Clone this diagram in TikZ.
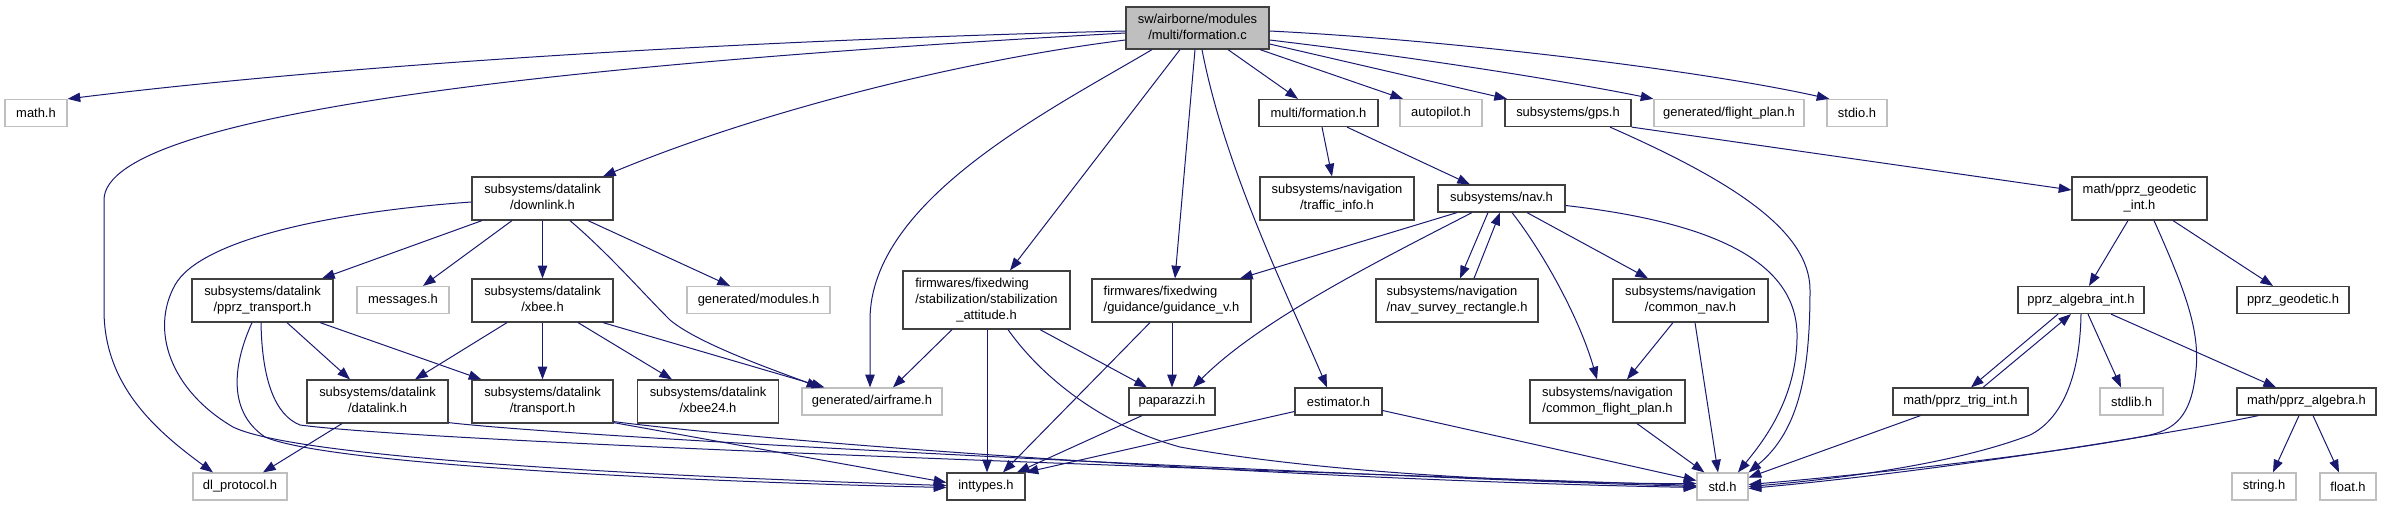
\documentclass[tikz,border=0pt]{standalone}
\usepackage{fontspec}
\setmainfont{Liberation Sans}
\usetikzlibrary{calc,arrows.meta}
\definecolor{edgec}{HTML}{191970}
\definecolor{dkb}{HTML}{404040}
\definecolor{ltb}{HTML}{BFBFBF}
\definecolor{topf}{HTML}{BFBFBF}
\newcommand{\twol}[2]{\begin{tabular}{@{}l@{}}#1\\\multicolumn{1}{@{}c@{}}{#2}\end{tabular}}
\newcommand{\threel}[3]{\begin{tabular}{@{}l@{}}#1\\#2\\\multicolumn{1}{@{}c@{}}{#3}\end{tabular}}
\begin{document}
\begin{tikzpicture}[x=0.75pt,y=-0.75pt,
  base/.style={inner sep=0pt, line width=0.9pt, fill=white, font=\fontsize{9.7}{12}\selectfont, align=center},
  dk/.style={base, draw=dkb},
  lt/.style={base, draw=ltb},
  sz/.style 2 args={minimum width=#1*0.75pt, minimum height=#2*0.75pt},
  inc/.style={draw=edgec, line width=0.75pt, -{Triangle[length=9.5pt,width=7pt]}, fill=none}]
\useasboundingbox (0,0) rectangle (2381,507);
% nodes
\node[dk, sz={143}{42}, fill=topf] (T) at (1197.5,28) {\twol{sw/airborne/modules}{/multi/formation.c}};
\node[lt, sz={62}{27}] (math) at (36,113) {math.h};
\node[dk, sz={119}{27}] (mform) at (1318.5,113) {multi/formation.h};
\node[lt, sz={82}{27}] (autopilot) at (1441,113) {autopilot.h};
\node[dk, sz={126}{27}] (gps) at (1568,113) {subsystems/gps.h};
\node[lt, sz={150}{27}] (flightplan) at (1729,113) {generated/flight\_plan.h};
\node[lt, sz={60}{27}] (stdio) at (1857,113) {stdio.h};
\node[dk, sz={141}{43}] (downlink) at (542.5,198.5) {\twol{subsystems/datalink}{/downlink.h}};
\node[dk, sz={154}{43}] (traffic) at (1337,198.5) {\twol{subsystems/navigation}{/traffic\_info.h}};
\node[dk, sz={127}{27}] (nav) at (1501.5,198.5) {subsystems/nav.h};
\node[dk, sz={135}{43}] (geoint) at (2139.5,198.5) {\twol{math/pprz\_geodetic}{\_int.h}};
\node[dk, sz={141}{43}] (ptrans) at (262.5,300.5) {\twol{subsystems/datalink}{/pprz\_transport.h}};
\node[lt, sz={92}{27}] (messages) at (403,300) {messages.h};
\node[dk, sz={141}{43}] (xbee) at (542.5,300.5) {\twol{subsystems/datalink}{/xbee.h}};
\node[lt, sz={143}{27}] (modules) at (758.5,300) {generated/modules.h};
\node[dk, sz={167}{58}] (stab) at (986.5,300) {\threel{firmwares/fixedwing}{/stabilization/stabilization}{\_attitude.h}};
\node[dk, sz={159}{43}] (guid) at (1171.5,300.5) {\twol{firmwares/fixedwing}{/guidance/guidance\_v.h}};
\node[dk, sz={162}{43}] (survey) at (1457,300.5) {\twol{subsystems/navigation}{/nav\_survey\_rectangle.h}};
\node[dk, sz={155}{43}] (cnav) at (1690.5,300.5) {\twol{subsystems/navigation}{/common\_nav.h}};
\node[dk, sz={126}{27}] (algint) at (2081,300) {pprz\_algebra\_int.h};
\node[dk, sz={112}{27}] (geodetic) at (2293,300) {pprz\_geodetic.h};
\node[dk, sz={141}{43}] (datalink) at (377.5,401.5) {\twol{subsystems/datalink}{/datalink.h}};
\node[dk, sz={141}{43}] (transport) at (542.5,401.5) {\twol{subsystems/datalink}{/transport.h}};
\node[dk, sz={141}{43}] (xbee24) at (708,401.5) {\twol{subsystems/datalink}{/xbee24.h}};
\node[lt, sz={140}{27}] (airframe) at (872,401.5) {generated/airframe.h};
\node[dk, sz={86}{27}] (paparazzi) at (1172,401.5) {paparazzi.h};
\node[dk, sz={87}{27}] (estimator) at (1338.5,401.5) {estimator.h};
\node[dk, sz={155}{43}] (cfp) at (1607.5,401.5) {\twol{subsystems/navigation}{/common\_flight\_plan.h}};
\node[dk, sz={135}{27}] (trig) at (1960.5,401.5) {math/pprz\_trig\_int.h};
\node[lt, sz={63}{27}] (stdlib) at (2131.5,401.5) {stdlib.h};
\node[dk, sz={139}{27}] (palg) at (2306.5,401.5) {math/pprz\_algebra.h};
\node[lt, sz={94}{27}] (dl) at (240,486.5) {dl\_protocol.h};
\node[dk, sz={78}{27}] (inttypes) at (986,486.5) {inttypes.h};
\node[lt, sz={51}{27}] (std) at (1722.5,486.5) {std.h};
\node[lt, sz={64}{27}] (string) at (2264,486.5) {string.h};
\node[lt, sz={56}{27}] (float) at (2348,486.5) {float.h};
% edges from formation.c
\draw[inc] ($(T.west)+(0,3)$) .. controls (750,40) and (350,64) .. (math.north east);
\draw[inc] ($(T.west)+(0,5)$) .. controls (600,62) and (104,110) .. (104,200) -- (104,310) .. controls (104,385) and (155,430) .. ($(dl.north)+(-27,0)$);
\draw[inc] ($(T.west)+(0,12)$) .. controls (950,62) and (750,115) .. ($(downlink.north)+(60.5,0)$);
\draw[inc] ($(T.south)+(-45.5,0)$) .. controls (1050,110) and (870,200) .. (870,320) -- ($(airframe.north)+(-2,0)$);
\draw[inc] ($(T.south)+(-17.5,0)$) -- ($(stab.north)+(23.5,0)$);
\draw[inc] ($(T.south)+(-2.5,0)$) -- ($(guid.north)+(3.5,0)$);
\draw[inc] ($(T.south)+(4.5,0)$) .. controls (1225,170) and (1290,300) .. ($(estimator.north)+(-11.5,0)$);
\draw[inc] ($(T.south)+(30.5,0)$) -- ($(mform.north)+(-20.5,0)$);
\draw[inc] ($(T.south)+(62.5,0)$) -- ($(autopilot.north)+(-38,0)$);
\draw[inc] ($(T.east)+(0,16)$) -- ($(gps.north)+(-61,0)$);
\draw[inc] ($(T.east)+(0,12)$) .. controls (1420,58) and (1560,80) .. (flightplan.north west);
\draw[inc] ($(T.east)+(0,3)$) .. controls (1450,40) and (1700,70) .. ($(stdio.north west)+(3,0)$);
% multi/formation.h
\draw[inc] ($(mform.south)+(3.5,0)$) -- ($(traffic.north)+(-5,0)$);
\draw[inc] ($(mform.south)+(28.5,0)$) -- ($(nav.north)+(-31.5,0)$);
% nav.h
\draw[inc] ($(nav.south)+(-44.5,0)$) -- ($(guid.north)+(68.5,0)$);
\draw[inc] ($(nav.south)+(-29.5,0)$) .. controls (1380,260) and (1260,320) .. ($(paparazzi.north)+(21,0)$);
\draw[inc] ($(nav.south)+(-13.5,0)$) -- ($(survey.north)+(3,0)$);
\draw[inc] ($(survey.north)+(17,0)$) -- ($(nav.south)+(-1.5,0)$);
\draw[inc] ($(nav.south)+(10.5,0)$) .. controls (1545,255) and (1580,320) .. ($(cfp.north)+(-10.5,0)$);
\draw[inc] ($(nav.south)+(25.5,0)$) -- ($(cnav.north)+(-42.5,0)$);
\draw[inc] ($(nav.east)+(0,7)$) .. controls (1710,222) and (1795,260) .. (1797,333) .. controls (1798,400) and (1760,445) .. ($(std.north)+(15.5,0)$);
% gps.h
\draw[inc] ($(gps.south)+(42,0)$) .. controls (1730,180) and (1810,230) .. (1810,290) .. controls (1810,370) and (1800,430) .. (std.north east);
\draw[inc] (gps.south east) -- ($(geoint.west)+(0,-8.5)$);
% common nav / flight plan
\draw[inc] ($(cnav.south)+(-17.5,0)$) -- ($(cfp.north)+(19.5,0)$);
\draw[inc] ($(cnav.south)+(4.5,0)$) -- ($(std.north)+(-4.5,0)$);
\draw[inc] ($(cfp.south)+(29.5,0)$) -- ($(std.north west)+(8,0)$);
% geodetic int
\draw[inc] ($(geoint.south)+(-11.5,0)$) -- ($(algint.north)+(8,0)$);
\draw[inc] ($(geoint.south)+(33.5,0)$) -- ($(geodetic.north)+(-20,0)$);
\draw[inc] ($(geoint.south)+(14.5,0)$) .. controls (2185,290) and (2200,330) .. (2196,370) .. controls (2192,410) and (2180,428) .. (2150,435) .. controls (2050,455) and (1850,476) .. ($(std.east)+(0,-2)$);
% algebra int
\draw[inc] ($(algint.south)+(-23,0)$) -- ($(trig.north)+(10.5,0)$);
\draw[inc] ($(trig.north)+(22.5,0)$) -- ($(algint.south)+(-10,0)$);
\draw[inc] ($(algint.south)+(7,0)$) -- ($(stdlib.north)+(-10.5,0)$);
\draw[inc] ($(algint.south)+(30,0)$) -- ($(palg.north)+(-30.5,0)$);
\draw[inc] (algint.south) .. controls (2080,380) and (2060,420) .. (2030,435) .. controls (1960,462) and (1850,478) .. (std.east);
\draw[inc] ($(trig.south)+(-40,0)$) -- ($(std.east)+(0,-9)$);
\draw[inc] ($(palg.south)+(-48,0)$) .. controls (2180,432) and (1950,470) .. ($(std.east)+(0,2)$);
\draw[inc] ($(palg.south)+(-7.5,0)$) -- ($(string.north)+(9,0)$);
\draw[inc] ($(palg.south)+(6.5,0)$) -- ($(float.north)+(-9,0)$);
% downlink.h
\draw[inc] ($(downlink.south)+(-60.5,0)$) -- ($(ptrans.north)+(59.5,0)$);
\draw[inc] ($(downlink.south)+(-30.5,0)$) -- ($(messages.north)+(20,0)$);
\draw[inc] (downlink.south) -- (xbee.north);
\draw[inc] ($(downlink.south)+(27.5,0)$) .. controls (610,255) and (640,290) .. (670,320) .. controls (700,345) and (780,372) .. ($(airframe.north west)+(18,0)$);
\draw[inc] ($(downlink.south)+(45.5,0)$) -- ($(modules.north)+(-28.5,0)$);
\draw[inc] ($(downlink.west)+(0,3.5)$) .. controls (330,212) and (200,240) .. (175,285) .. controls (150,330) and (170,390) .. (233,427) .. controls (300,460) and (700,478) .. ($(inttypes.west)+(0,-1)$);
% pprz_transport.h
\draw[inc] ($(ptrans.south)+(-10.5,0)$) .. controls (235,360) and (225,410) .. (265,437) .. controls (330,465) and (700,482) .. ($(inttypes.west)+(0,1)$);
\draw[inc] ($(ptrans.south)+(-1.5,0)$) .. controls (262,380) and (275,415) .. (300,425) .. controls (450,445) and (1400,475) .. ($(std.west)+(0,-1)$);
\draw[inc] ($(ptrans.south)+(24.5,0)$) -- ($(datalink.north)+(-27.5,0)$);
\draw[inc] ($(ptrans.south)+(57.5,0)$) -- ($(transport.north west)+(10,0)$);
% xbee.h
\draw[inc] ($(xbee.south)+(-35.5,0)$) -- ($(datalink.north)+(37.5,0)$);
\draw[inc] (xbee.south) -- (transport.north);
\draw[inc] ($(xbee.south)+(35.5,0)$) -- ($(xbee24.north)+(-36,0)$);
\draw[inc] ($(xbee.south)+(60.5,0)$) -- ($(airframe.north west)+(23,0)$);
% datalink.h, transport.h
\draw[inc] ($(datalink.south)+(-35.5,0)$) -- ($(dl.north)+(23,0)$);
\draw[inc] ($(datalink.south east)+(0,-1)$) .. controls (600,440) and (1400,478) .. (std.west);
\draw[inc] ($(transport.south east)+(0,-1)$) -- ($(inttypes.west)+(0,-4)$);
\draw[inc] ($(transport.south east)+(0,-2)$) .. controls (800,445) and (1300,480) .. ($(std.west)+(0,1)$);
% stabilization_attitude.h
\draw[inc] ($(stab.south)+(-34.5,0)$) -- ($(airframe.north)+(21,0)$);
\draw[inc] ($(stab.south)+(0.5,0)$) -- ($(inttypes.north)+(1,0)$);
\draw[inc] ($(stab.south)+(53.5,0)$) -- ($(paparazzi.north)+(-25,0)$);
\draw[inc] ($(stab.south)+(21.5,0)$) .. controls (1040,375) and (1100,425) .. (1180,447) .. controls (1350,478) and (1600,484) .. ($(std.west)+(0,-3)$);
% guidance_v.h, paparazzi.h, estimator.h
\draw[inc] ($(guid.south)+(-21.5,0)$) -- ($(inttypes.north)+(17,0)$);
\draw[inc] ($(guid.south)+(0.5,0)$) -- (paparazzi.north);
\draw[inc] ($(paparazzi.south)+(-30,0)$) -- ($(inttypes.north)+(31,0)$);
\draw[inc] ($(estimator.west)+(0,10)$) -- (inttypes.north east);
\draw[inc] ($(estimator.east)+(0,9)$) -- ($(std.west)+(0,-6)$);
\end{tikzpicture}
\end{document}
